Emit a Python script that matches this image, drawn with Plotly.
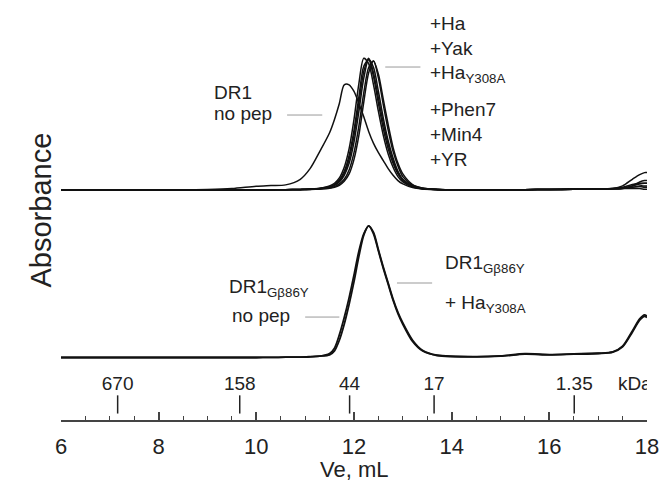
import plotly.graph_objects as go

# Elution volume grid (mL)
ve = [6.0, 7.0, 8.0, 9.0, 9.5, 10.0, 10.3, 10.6, 10.9,
      11.1, 11.3, 11.5, 11.6, 11.7, 11.8, 11.9, 12.0, 12.1, 12.2, 12.3, 12.4,
      12.5, 12.6, 12.7, 12.8, 12.9, 13.0, 13.2, 13.4, 13.7,
      14.5, 15.0, 15.5, 16.0, 16.5, 17.0, 17.3, 17.5, 17.7, 17.85, 17.95, 18.0]

# Upper panel: DR1 (arbitrary absorbance units, tallest peak = 1)
dr1_nopep = [0, 0, 0, 0.003, 0.01, 0.028, 0.033, 0.038, 0.08,
             0.16, 0.29, 0.43, 0.53, 0.65, 0.79, 0.79, 0.74, 0.65, 0.55, 0.44, 0.35,
             0.28, 0.22, 0.16, 0.11, 0.07, 0.045, 0.018, 0.007, 0.002,
             0, 0, 0.002, 0.003, 0.005, 0.007, 0.008, 0.01, 0.03, 0.06, 0.07, 0.07]
dr1_ha = [0, 0, 0, 0, 0, 0, 0, 0.002, 0.004,
          0.007, 0.012, 0.03, 0.05, 0.09, 0.17, 0.31, 0.53, 0.80, 0.99, 0.95, 0.79,
          0.59, 0.41, 0.27, 0.17, 0.10, 0.06, 0.022, 0.008, 0.003,
          0, 0, 0.002, 0.003, 0.006, 0.008, 0.01, 0.03, 0.08, 0.115, 0.13, 0.13]
dr1_yak = [0, 0, 0, 0, 0, 0, 0.001, 0.002, 0.004,
           0.006, 0.010, 0.025, 0.04, 0.075, 0.14, 0.26, 0.45, 0.70, 0.93, 0.98, 0.85,
           0.65, 0.46, 0.31, 0.20, 0.12, 0.07, 0.026, 0.009, 0.003,
           0, 0, 0.002, 0.003, 0.006, 0.008, 0.01, 0.02, 0.04, 0.05, 0.05, 0.05]
dr1_hay308a = [0, 0, 0, 0, 0, 0, 0.001, 0.002, 0.003,
               0.005, 0.009, 0.02, 0.035, 0.06, 0.11, 0.20, 0.36, 0.59, 0.84, 0.98, 0.92,
               0.74, 0.54, 0.37, 0.24, 0.14, 0.08, 0.03, 0.01, 0.003,
               0, 0, 0.002, 0.003, 0.005, 0.007, 0.01, 0.015, 0.03, 0.045, 0.05, 0.05]
dr1_phen7 = [0, 0, 0, 0, 0, 0, 0, 0.001, 0.002,
             0.004, 0.007, 0.015, 0.025, 0.045, 0.08, 0.15, 0.28, 0.48, 0.73, 0.92, 0.97,
             0.84, 0.64, 0.45, 0.29, 0.18, 0.10, 0.035, 0.012, 0.004,
             0, 0, 0.002, 0.003, 0.005, 0.007, 0.008, 0.01, 0.02, 0.025, 0.02, 0.02]
dr1_min4 = [0, 0, 0, 0, 0, 0, 0.001, 0.002, 0.003,
            0.006, 0.01, 0.022, 0.038, 0.068, 0.125, 0.23, 0.41, 0.65, 0.89, 0.99, 0.88,
            0.69, 0.50, 0.34, 0.22, 0.13, 0.075, 0.028, 0.01, 0.003,
            0, 0, 0.002, 0.003, 0.005, 0.007, 0.009, 0.012, 0.02, 0.03, 0.03, 0.03]
dr1_yr = [0, 0, 0, 0, 0, 0, 0, 0.001, 0.002,
          0.003, 0.006, 0.012, 0.02, 0.035, 0.065, 0.12, 0.23, 0.41, 0.66, 0.88, 0.97,
          0.87, 0.68, 0.49, 0.32, 0.20, 0.12, 0.04, 0.014, 0.004,
          0, 0, 0.002, 0.003, 0.005, 0.007, 0.008, 0.01, 0.01, 0.01, 0.005, 0.005]

# Lower panel: DR1 G-beta86Y
mut_nopep = [0, 0, 0, 0, 0, 0, 0.001, 0.002, 0.003,
             0.006, 0.01, 0.03, 0.07, 0.17, 0.30, 0.45, 0.62, 0.80, 0.93, 0.99, 0.93,
             0.80, 0.67, 0.55, 0.43, 0.33, 0.25, 0.12, 0.05, 0.015,
             0.005, 0.01, 0.025, 0.02, 0.025, 0.03, 0.04, 0.08, 0.19, 0.28, 0.31, 0.30]
mut_hay308a = [0, 0, 0, 0, 0, 0, 0.001, 0.002, 0.003,
               0.005, 0.01, 0.02, 0.05, 0.13, 0.25, 0.40, 0.57, 0.76, 0.92, 0.99, 0.94,
               0.81, 0.68, 0.56, 0.44, 0.34, 0.26, 0.13, 0.055, 0.017,
               0.006, 0.012, 0.028, 0.022, 0.027, 0.032, 0.042, 0.085, 0.20, 0.29, 0.32, 0.31]

TOP_OFFSET = 1.73
BOTTOM_OFFSET = 0.47

# Molecular-weight standards
std_ve = [7.16, 9.66, 11.91, 13.64, 16.51]
std_kda = ["670", "158", "44", "17", "1.35"]

FONT = "Arial, Liberation Sans, Helvetica, sans-serif"
fig = go.Figure()

top_traces = [dr1_nopep, dr1_ha, dr1_yak, dr1_hay308a, dr1_phen7, dr1_min4, dr1_yr]
for tr in top_traces:
    fig.add_trace(go.Scatter(x=ve, y=[v + TOP_OFFSET for v in tr], mode="lines",
                             line=dict(color="#111", width=1.5, shape="spline", smoothing=0.8),
                             showlegend=False, hoverinfo="skip"))
for tr in [mut_nopep, mut_hay308a]:
    fig.add_trace(go.Scatter(x=ve, y=[v + BOTTOM_OFFSET for v in tr], mode="lines",
                             line=dict(color="#111", width=1.8, shape="spline", smoothing=0.8),
                             showlegend=False, hoverinfo="skip"))

# standards tick marks and labels
fig.add_trace(go.Scatter(x=std_ve, y=[0.117] * len(std_ve), mode="markers",
                         marker=dict(symbol="line-ns", size=13, line=dict(color="#222", width=1.5)),
                         showlegend=False, hoverinfo="skip"))
fig.add_trace(go.Scatter(x=std_ve + [17.75], y=[0.263] * (len(std_ve) + 1), mode="text",
                         text=std_kda + ["kDa"], textfont=dict(family=FONT, size=19, color="#222"),
                         showlegend=False, hoverinfo="skip"))

def lab(x, y, t, size=19):
    fig.add_annotation(x=x, y=y, xref="x", yref="y", text=t, showarrow=False,
                       xanchor="left", yanchor="middle",
                       font=dict(family=FONT, size=size, color="#222"))

lab(13.52, 2.985, "+Ha")
lab(13.52, 2.797, "+Yak")
lab(13.52, 2.60, "+Ha<sub>Y308A</sub>")
lab(13.52, 2.331, "+Phen7")
lab(13.52, 2.143, "+Min4")
lab(13.52, 1.962, "+YR")
lab(9.09, 2.466, "DR1")
lab(9.09, 2.301, "no pep")
lab(9.40, 0.99, "DR1<sub>Gβ86Y</sub>")
lab(9.46, 0.782, "no pep")
lab(13.83, 1.17, "DR1<sub>Gβ86Y</sub>")
lab(13.83, 0.87, "+ Ha<sub>Y308A</sub>")

for x0, x1, y in [(12.64, 13.36, 2.654), (10.63, 11.35, 2.293), (11.0, 11.7, 0.774), (12.88, 13.60, 1.03)]:
    fig.add_shape(type="line", x0=x0, x1=x1, y0=y, y1=y, xref="x", yref="y",
                  line=dict(color="#999", width=1))

fig.add_annotation(x=12.0, y=-0.152, xref="x", yref="paper", text="Ve, mL", showarrow=False,
                   font=dict(family=FONT, size=22, color="#222"))
fig.add_annotation(x=-0.064, y=0.5, xref="paper", yref="paper", text="Absorbance", showarrow=False,
                   textangle=-90, font=dict(family=FONT, size=29, color="#222"))

fig.update_layout(
    width=661, height=496, margin=dict(l=61, r=14, t=0, b=76),
    paper_bgcolor="white", plot_bgcolor="white",
    xaxis=dict(range=[6, 18], showline=True, linecolor="#444", linewidth=1.5,
               ticks="inside", ticklen=8, tickwidth=1.5, tickcolor="#444",
               tickvals=[6, 8, 10, 12, 14, 16, 18], showgrid=False, zeroline=False,
               tickfont=dict(family=FONT, size=22, color="#222"), ticklabelstandoff=6,
               minor=dict(ticks="inside", ticklen=4, tickwidth=1.2, tickcolor="#444", dtick=0.5,
                          showgrid=False)),
    yaxis=dict(range=[0, 420 / 133], visible=False, showgrid=False, zeroline=False),
)
# remove the default 8 px page margin so the figure fills the 661x496 window exactly
fig.write_html("out.html", config={"displayModeBar": False},
               post_script="document.body.style.margin='0';document.body.style.overflow='hidden';")
